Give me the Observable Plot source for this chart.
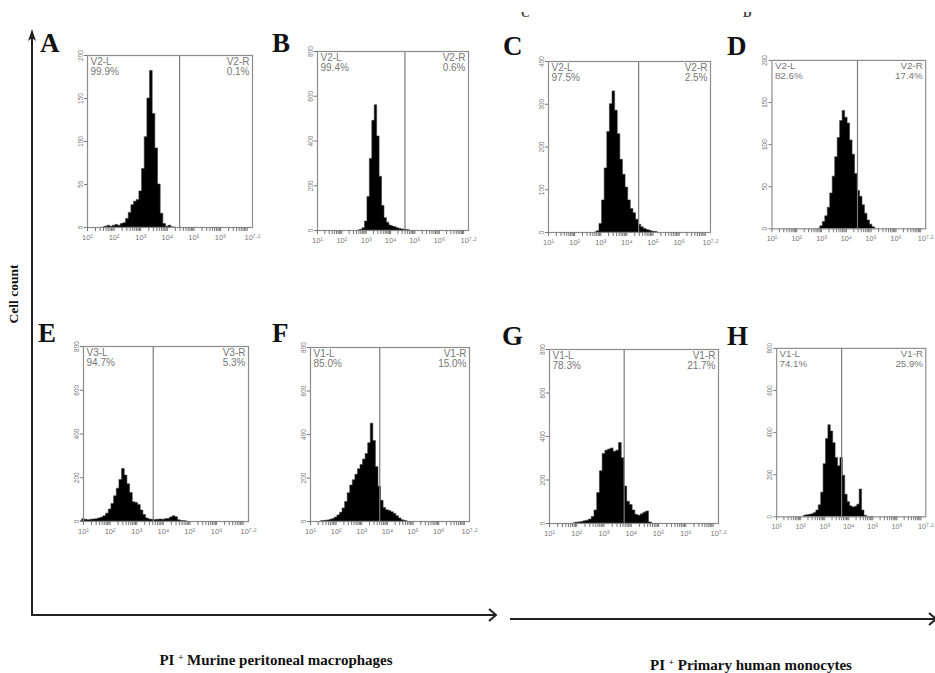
<!DOCTYPE html>
<html>
<head>
<meta charset="utf-8">
<script src="https://cdn.jsdelivr.net/npm/d3@7"></script>
<script src="https://cdn.jsdelivr.net/npm/@observablehq/plot@0.6"></script>
<style>
  body { margin: 0; background: #fff; }
  #page { position: relative; width: 935px; height: 673px; overflow: hidden; background: #fff; }
  .panel { position: absolute; }
  #overlay { position: absolute; left: 0; top: 0; pointer-events: none; }
</style>
</head>
<body>
<div id="page"></div>
<script>
// ---------- data ----------
const panelLetters = ["A", "B", "C", "D", "E", "F", "G", "H"];
const gateNames = ["V2", "V2", "V2", "V2", "V3", "V1", "V1", "V1"];
const leftPct = ["99.9%", "99.4%", "97.5%", "82.6%", "94.7%", "85.0%", "78.3%", "74.1%"];
const rightPct = ["0.1%", "0.6%", "2.5%", "17.4%", "5.3%", "15.0%", "21.7%", "25.9%"];
const gateCut = [4.46, 4.59, 4.45, 4.45, 3.62, 3.7, 3.74, 3.7]; // log10 position of the gate divider
const yMax = [200, 800, 400, 200, 800, 800, 800, 800];
const yTicksA = [0, 50, 100, 150, 200];
const yTicksB = [0, 200, 400, 600, 800];
const yTicksC = [0, 100, 200, 300, 400];
const yTicksD = [0, 50, 100, 150, 200];
const yTicks800 = [0, 200, 400, 600, 800];
const yTickSets = [yTicksA, yTicksB, yTicksC, yTicksD, yTicks800, yTicks800, yTicks800, yTicks800];
const xTickValues = [1, 2, 3, 4, 5, 6, 7.2];
const xTickLabels = ["10¹", "10²", "10³", "10⁴", "10⁵", "10⁶", "10⁷·²"];

// histogram counts, bins of 0.1 log10 units starting at histStart
const histStart = [1.7, 2.8, 2.9, 3.0, 1.0, 1.5, 2.0, 2.2];
const histA = [1, 2, 1, 2, 3, 2, 4, 5, 10, 17, 26, 30, 32, 42, 68, 105, 150, 182, 132, 92, 50, 16, 4, 1, 2, 0];
const histB = [3, 10, 40, 150, 320, 490, 560, 420, 240, 110, 55, 35, 22, 18, 15, 10, 7, 5, 3, 2];
const histC = [3, 20, 75, 150, 235, 300, 330, 285, 230, 170, 135, 105, 75, 55, 45, 30, 18, 12, 8, 6, 4, 2, 1];
const histD = [3, 8, 15, 25, 42, 62, 85, 108, 128, 140, 132, 125, 105, 88, 65, 45, 38, 28, 18, 10, 5, 2];
const histE = [10, 8, 6, 8, 9, 10, 14, 18, 24, 36, 55, 80, 115, 150, 190, 240, 210, 170, 130, 88, 85, 76, 50, 30, 14, 9, 8, 7, 8, 9, 8, 10, 12, 18, 24, 20, 6, 2, 1];
const histF = [2, 3, 5, 8, 12, 18, 28, 40, 60, 90, 130, 165, 190, 215, 240, 260, 285, 310, 360, 450, 370, 250, 160, 95, 62, 52, 48, 42, 35, 24, 14, 6, 2];
const histG = [4, 5, 7, 10, 13, 18, 30, 60, 140, 240, 320, 335, 340, 345, 330, 335, 370, 300, 170, 100, 85, 60, 40, 36, 42, 50, 55, 5];
const histH = [6, 8, 10, 12, 18, 30, 55, 115, 250, 370, 435, 405, 350, 280, 240, 280, 195, 105, 70, 50, 45, 48, 58, 130, 30, 5];
const hists = [histA, histB, histC, histD, histE, histF, histG, histH];

const captionLeft = "Murine peritoneal macrophages";
const captionRight = "Primary human monocytes";
const yAxisTitle = "Cell count";

// ---------- layout (frame rectangles: left, top, right, bottom) ----------
const layout = [
  [87, 55, 252, 227], [317, 51, 468, 230], [548, 61, 710, 232], [772, 60, 929, 232],
  [83, 346, 248, 521], [310, 347, 469, 521], [549, 349, 718, 523], [777, 348, 931, 522]
];
const letterPos = [[40, 52], [272, 52], [503, 55], [727, 55], [38, 342], [272, 342], [502, 345], [727, 345]];
const M = {l: 26, r: 10, t: 4, b: 24};
const minorTicks = d3.range(1, 8)
  .flatMap(n => d3.range(1, 10).map(k => n + Math.log10(k)))
  .filter(v => v <= 7.2001);

const page = document.getElementById("page");

hists.forEach((h, i) => {
  const [L, T, R, B] = layout[i];
  const bins = h.map((y, j) => ({x: histStart[i] + j * 0.1, y}));
  // closed outline: zero just outside the first and last bins
  const data = [{x: histStart[i] - 0.1, y: 0}, ...bins, {x: histStart[i] + h.length * 0.1, y: 0}];
  const plot = Plot.plot({
    width: R - L + M.l + M.r,
    height: B - T + M.t + M.b,
    marginLeft: M.l, marginRight: M.r, marginTop: M.t, marginBottom: M.b,
    x: {domain: [1, 7.2], label: null},
    y: {domain: [0, yMax[i]], label: null},
    style: {background: "transparent", color: "#777", fontFamily: "'Liberation Sans', Arial, sans-serif", overflow: "visible"},
    marks: [
      Plot.areaY(data, {x: "x", y1: 0, y2: "y", curve: "step", fill: "#000", stroke: "#3a3a3a", strokeWidth: 0.6}),
      Plot.ruleX([gateCut[i]], {stroke: "#7a7a7a", strokeWidth: 1.2}),
      Plot.frame({stroke: "#8c8c8c", strokeWidth: 1.2}),
      Plot.text([`${gateNames[i]}-L\n${leftPct[i]}`], {frameAnchor: "top-left", dx: 3, dy: 2, lineAnchor: "top", textAnchor: "start", fontSize: 10, fill: "#777", lineHeight: 1}),
      Plot.text([`${gateNames[i]}-R\n${rightPct[i]}`], {frameAnchor: "top-right", dx: -3, dy: 2, lineAnchor: "top", textAnchor: "end", fontSize: 10, fill: "#777", lineHeight: 1}),
      Plot.axisY(yTickSets[i], {label: null, tickSize: 3, tickRotate: -90, fontSize: 6.5, tickPadding: 2, stroke: "#777", fill: "#777"}),
      Plot.axisX(minorTicks, {label: null, tickSize: 4, tickFormat: () => "", stroke: "#777"}),
      Plot.axisX(xTickValues, {label: null, tickSize: 0, tickPadding: 7, fontSize: 7.5, fill: "#777", tickFormat: d => xTickLabels[xTickValues.indexOf(d)]})
    ]
  });
  const div = document.createElement("div");
  div.className = "panel";
  div.style.left = (L - M.l) + "px";
  div.style.top = (T - M.t) + "px";
  div.appendChild(plot);
  page.appendChild(div);
});

// ---------- decorations: arrows, letters, captions ----------
const ns = "http://www.w3.org/2000/svg";
const svg = document.createElementNS(ns, "svg");
svg.setAttribute("id", "overlay");
svg.setAttribute("width", 935);
svg.setAttribute("height", 673);
const serif = "'Liberation Serif', 'Times New Roman', serif";
function el(tag, attrs, text) {
  const e = document.createElementNS(ns, tag);
  for (const k in attrs) e.setAttribute(k, attrs[k]);
  if (text != null) e.textContent = text;
  svg.appendChild(e);
  return e;
}
// arrows
el("line", {x1: 32, y1: 616, x2: 32, y2: 36, stroke: "#222", "stroke-width": 2});
el("path", {d: "M32,29 L36,41 L32,38 L28,41 Z", fill: "#222"});
el("line", {x1: 31, y1: 615, x2: 495, y2: 615, stroke: "#222", "stroke-width": 2});
el("path", {d: "M489,609 L496,615 L489,621", fill: "none", stroke: "#222", "stroke-width": 2});
el("line", {x1: 510, y1: 619, x2: 935, y2: 619, stroke: "#222", "stroke-width": 2.2});
el("path", {d: "M929,613 L936,619 L929,625", fill: "none", stroke: "#222", "stroke-width": 2});
// panel letters
panelLetters.forEach((t, i) => {
  el("text", {x: letterPos[i][0], y: letterPos[i][1], "font-family": serif, "font-weight": "bold", "font-size": 27, fill: "#111"}, t);
});
// clipped remnants at the top edge
const clip = el("clipPath", {id: "topclip"});
const cr = document.createElementNS(ns, "rect");
cr.setAttribute("x", 0); cr.setAttribute("y", 12); cr.setAttribute("width", 935); cr.setAttribute("height", 20);
clip.appendChild(cr);
el("text", {x: 521, y: 17, "font-family": serif, "font-weight": "bold", "font-size": 12, fill: "#444", "clip-path": "url(#topclip)"}, "C");
el("text", {x: 743, y: 17, "font-family": serif, "font-weight": "bold", "font-size": 12, fill: "#444", "clip-path": "url(#topclip)"}, "D");
// y title
el("text", {x: 0, y: 0, transform: "translate(18,294) rotate(-90)", "text-anchor": "middle", "font-family": serif, "font-weight": "bold", "font-size": 13.5, fill: "#111"}, yAxisTitle);
// captions
function caption(cx, cy, body) {
  const t = el("text", {x: cx, y: cy, "text-anchor": "middle", "font-family": serif, "font-weight": "bold", "font-size": 15, fill: "#111"});
  const a = document.createElementNS(ns, "tspan"); a.textContent = "PI "; t.appendChild(a);
  const b = document.createElementNS(ns, "tspan"); b.textContent = "+"; b.setAttribute("font-size", 9); b.setAttribute("dy", -5); t.appendChild(b);
  const c = document.createElementNS(ns, "tspan"); c.textContent = " " + body; c.setAttribute("dy", 5); t.appendChild(c);
}
caption(276, 665, captionLeft);
caption(751, 670, captionRight);
page.appendChild(svg);
</script>
</body>
</html>
